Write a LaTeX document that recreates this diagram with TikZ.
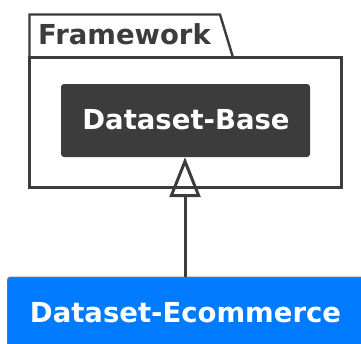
\documentclass[tikz,border=0pt]{standalone}
\usepackage{fontspec}
\setmainfont{DejaVu Sans}
\usetikzlibrary{arrows.meta}
\definecolor{ink}{HTML}{3C3C3C}
\definecolor{primary}{HTML}{007BFF}
\tikzset{
  pkgline/.style={draw=ink, line width=2.4pt, line join=miter},
  classbox/.style={rounded corners=3pt, inner sep=0pt, font=\fontsize{27.5}{33}\bfseries, text=white},
  extends/.style={draw=ink, line width=3pt, -{Triangle[open, length=40pt, width=31pt, line width=3pt]}},
}
\begin{document}
\begin{tikzpicture}[x=1pt, y=-1pt]
  \useasboundingbox (0,0) rectangle (361,343);
  \clip (0,0) rectangle (361,343);
  % package "Framework": tab and body
  \draw[pkgline] (29.5,57.5) -- (29.5,14.5) -- (220,14.5) -- (233,57.5) -- cycle;
  \draw[pkgline] (29.5,57.5) rectangle (341.5,187.5);
  \node[anchor=base west, inner sep=0pt, text=ink, font=\fontsize{27.5}{33}\bfseries] (pkg) at (38,44.3) {Framework};
  % classes
  \path[classbox, fill=ink] (61,84) rectangle (310,157);
  \node[classbox, minimum width=249pt, minimum height=73pt] (base) at (185.5,120.5) {};
  \node[anchor=base, inner sep=0pt, text=white, font=\fontsize{27.5}{33}\bfseries] at (186,129.3) {Dataset-Base};
  \path[classbox, fill=primary, draw=ink!70, line width=1pt] (7.5,277) rectangle (364,352);
  \node[classbox, minimum width=356.5pt, minimum height=75pt] (eco) at (185.75,314.5) {};
  \node[anchor=base, inner sep=0pt, text=white, font=\fontsize{27.5}{33}\bfseries] at (185.5,322.7) {Dataset-Ecommerce};
  % generalisation
  \draw[extends] (eco.north -| 185,0) -- (base.south -| 185,0);
\end{tikzpicture}
\end{document}
